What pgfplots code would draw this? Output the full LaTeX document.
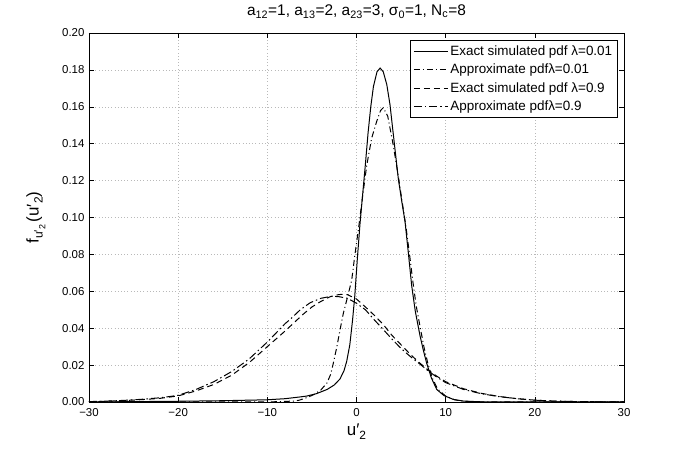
\documentclass[border=0pt]{standalone}
\usepackage{fontspec}
\setmainfont{Liberation Sans}
\usepackage{pgfplots}
\pgfplotsset{compat=1.18}
\newcommand\lsub[2]{\raisebox{-0.45ex}{\fontsize{#1}{#1}\selectfont #2}}
\begin{document}
\begin{tikzpicture}
\useasboundingbox (-89bp,-50bp) rectangle (596bp,402bp);
\begin{axis}[
  at={(0,0)}, anchor=south west,
  scale only axis, width=535bp, height=369bp,
  xmin=-30, xmax=30, ymin=0, ymax=0.2,
  xtick={-30,-20,-10,0,10,20,30},
  xticklabels={−30,−20,−10,0,10,20,30},
  ytick={0,0.02,0.04,0.06,0.08,0.1,0.12,0.14,0.16,0.18,0.2},
  yticklabel style={xshift=-1bp, /pgf/number format/.cd, fixed, fixed zerofill, precision=2, assume math mode=true},
  xticklabel style={yshift=-2.5bp},
  scaled y ticks=false,
  tick label style={font=\fontsize{11.5}{13}\selectfont},
  tick align=inside, major tick length=5bp,
  tick style={black, line width=0.5bp},
  axis line style={black, line width=0.6bp},
  grid=major,
  major grid style={gray!55, line width=0.5bp, dash pattern=on 0.6bp off 2.6bp},
  title={a\textsubscript{12}=1, a\textsubscript{13}=2, a\textsubscript{23}=3, σ\textsubscript{0}=1, N\textsubscript{c}=8},
  title style={font=\fontsize{15.5}{18}\selectfont, at={(axis description cs:0.5,1)}, anchor=south, yshift=5bp},
  xlabel={u′\lsub{12}{2}},
  xlabel style={font=\fontsize{17}{18}\selectfont, at={(axis description cs:0.5,0)}, anchor=north, yshift=-18bp},
  ylabel={f\lsub{12}{u′\lsub{9}{2}}\,(u′\lsub{12}{2})},
  ylabel style={font=\fontsize{17}{18}\selectfont, at={(axis description cs:0,0.5)}, anchor=south, yshift=40bp},
  legend style={at={(1,1)}, anchor=north east, xshift=-6bp, yshift=-7bp,
    draw=black, line width=0.6bp, font=\fontsize{13.5}{15}\selectfont,
    cells={anchor=west}, row sep=3.2bp, inner sep=3.5bp},
  legend image code/.code={\draw[line width=1bp] plot coordinates {(0cm,0cm) (1.2cm,0cm)};},
  every axis plot/.append style={black, line width=1bp},
]
% Exact simulated pdf, lambda = 0.01
\addplot[solid] coordinates {
(-30,0) (-25,0.0002) (-20,0.0004) (-15,0.0007) (-10,0.0012) (-8,0.0018)
(-6.4,0.0027) (-5.6,0.0032) (-4.5,0.0045) (-3.3,0.0068) (-2.5,0.0092)
(-1.85,0.0125) (-1.4,0.017) (-1.1,0.022) (-0.75,0.031) (-0.45,0.044)
(-0.2,0.057) (0.1,0.078) (0.4,0.097) (0.7,0.113) (1.0,0.129) (1.3,0.146)
(1.6,0.16) (1.9,0.171) (2.3,0.179) (2.65,0.181) (3.0,0.179) (3.4,0.172)
(3.76,0.161) (4.2,0.142) (4.69,0.121) (5.1,0.108) (5.44,0.098) (5.81,0.081)
(6.19,0.063) (6.6,0.049) (7.12,0.036) (7.5,0.028) (7.87,0.021) (8.4,0.013)
(9.0,0.0068) (9.8,0.0035) (10.86,0.0014) (12,0.0005) (14,0.0001) (16,0) (30,0)
};
\addlegendentry{Exact simulated pdf λ=0.01}
% Approximate pdf, lambda = 0.01
\addplot[dash pattern=on 6bp off 3bp on 1bp off 3bp] coordinates {
(-30,0) (-10,0) (-7,0.0005) (-6.4,0.001) (-5.5,0.0025) (-4.8,0.004)
(-4,0.0065) (-3.3,0.0104) (-2.9,0.015) (-2.6,0.021) (-2.2,0.030)
(-1.85,0.039) (-1.48,0.048) (-1.0,0.057) (-0.54,0.066) (-0.2,0.079)
(0.2,0.093) (0.7,0.112) (1.14,0.128) (1.7,0.143) (2.26,0.152) (2.7,0.158)
(3.0,0.1595) (3.5,0.155) (4.13,0.139) (4.7,0.122) (5.2,0.106) (5.6,0.093)
(6.0,0.078) (6.3,0.066) (6.7,0.052) (7.2,0.039) (7.6,0.029) (8.0,0.021)
(8.5,0.013) (9.1,0.007) (10,0.0032) (11,0.0012) (12,0.0004) (14,0) (30,0)
};
\addlegendentry{Approximate pdfλ=0.01}
% Exact simulated pdf, lambda = 0.9
\addplot[dash pattern=on 6bp off 4bp] coordinates {
(-30,0.0001) (-28,0.0004) (-26,0.0008) (-24,0.0013) (-22,0.002) (-20,0.0033)
(-18,0.006) (-16,0.0095) (-14,0.0145) (-12,0.0215) (-10,0.030) (-8,0.0385)
(-6,0.0475) (-5,0.0515) (-4,0.0545) (-3,0.057) (-2,0.0582) (-1.5,0.0584)
(-1,0.0582) (0,0.0558) (1,0.0515) (2,0.047) (3,0.042) (4,0.036) (5,0.031)
(6,0.026) (7,0.0215) (8,0.0175) (9,0.014) (10,0.011) (12,0.0072) (14,0.0047)
(16,0.003) (18,0.0018) (20,0.001) (22,0.0005) (25,0.0002) (30,0)
};
\addlegendentry{Exact simulated pdf λ=0.9}
% Approximate pdf, lambda = 0.9
\addplot[dash pattern=on 8bp off 3bp on 1.5bp off 3bp] coordinates {
(-30,0.0002) (-28,0.0005) (-26,0.0009) (-24.3,0.0014) (-22,0.0023) (-20,0.0036)
(-18,0.0068) (-16,0.011) (-14.9,0.014) (-14,0.0165) (-12.7,0.021) (-12,0.0235)
(-10,0.0325) (-8,0.0425) (-7.46,0.0447) (-6.3,0.050) (-5.2,0.0538) (-4,0.0562)
(-2.8,0.0573) (-2,0.0571) (-1,0.0562) (0,0.0535) (1,0.050) (2,0.0445)
(3,0.0393) (4,0.034) (5,0.029) (6,0.0248) (7,0.021) (8,0.017) (9,0.0135)
(10,0.0105) (12,0.0068) (14,0.0045) (16,0.0029) (18,0.0018) (20,0.001)
(22,0.0005) (25,0.0002) (30,0)
};
\addlegendentry{Approximate pdfλ=0.9}
\end{axis}
\end{tikzpicture}
\end{document}
